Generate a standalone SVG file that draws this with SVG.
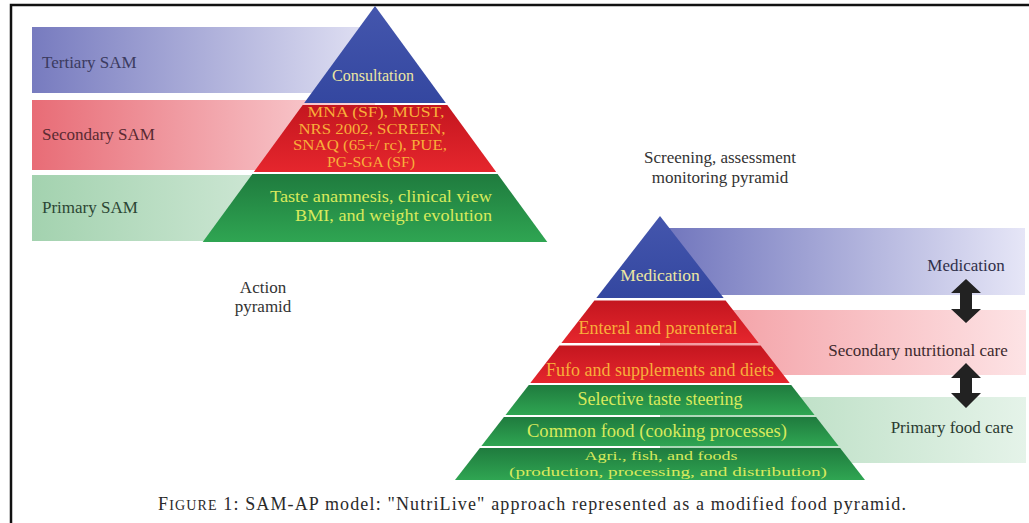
<svg xmlns="http://www.w3.org/2000/svg" width="1029" height="523" viewBox="0 0 1029 523">
<defs>
<linearGradient id="gTer" x1="0" y1="0" x2="1" y2="0"><stop offset="0" stop-color="#777bbf"/><stop offset="1" stop-color="#e2e2f4"/></linearGradient>
<linearGradient id="gSec" x1="0" y1="0" x2="1" y2="0"><stop offset="0" stop-color="#e86c76"/><stop offset="1" stop-color="#fbd9dc"/></linearGradient>
<linearGradient id="gPri" x1="0" y1="0" x2="1" y2="0"><stop offset="0" stop-color="#a3d2af"/><stop offset="1" stop-color="#e2f1e6"/></linearGradient>
<linearGradient id="gMedR" x1="0" y1="0" x2="1" y2="0"><stop offset="0" stop-color="#6f74bc"/><stop offset="1" stop-color="#e6e6f7"/></linearGradient>
<linearGradient id="gSecR" x1="0" y1="0" x2="1" y2="0"><stop offset="0" stop-color="#f2959b"/><stop offset="1" stop-color="#fde3e5"/></linearGradient>
<linearGradient id="gPriR" x1="0" y1="0" x2="1" y2="0"><stop offset="0" stop-color="#a9d6b4"/><stop offset="1" stop-color="#e5f3e9"/></linearGradient>
<linearGradient id="gBlue" x1="0" y1="0" x2="0" y2="1"><stop offset="0" stop-color="#4456ad"/><stop offset="1" stop-color="#3447a0"/></linearGradient>
<linearGradient id="gRed" x1="0" y1="0" x2="0" y2="1"><stop offset="0" stop-color="#c4161f"/><stop offset="1" stop-color="#e5262d"/></linearGradient>
<linearGradient id="gGreen" x1="0" y1="0" x2="0" y2="1"><stop offset="0" stop-color="#1f7b3e"/><stop offset="1" stop-color="#2fa552"/></linearGradient>
</defs>
<style>
text{font-family:"Liberation Serif","DejaVu Serif",serif;}
.band{font-size:17px;}
.mid{text-anchor:middle;}
.lbl{font-size:17px;fill:#333;}
.tb{fill:#ece6a2;}
.tr{fill:#f8ae3a;}
.tg{fill:#d8ea5c;}
.frame{fill:none;stroke:#111;stroke-width:2.5;}
.arr{fill:#222;}
</style>
<rect width="1029" height="523" fill="#fff"/>
<path class="frame" d="M11,523 V5 H1029"/>

<g id="band-tertiary-sam"><rect x="32" y="27" width="343" height="66" fill="url(#gTer)"/><text class="band" x="42" y="68" fill="#3b3b60">Tertiary SAM</text></g>
<g id="band-secondary-sam"><rect x="32" y="100" width="343" height="70" fill="url(#gSec)"/><text class="band" x="42" y="140" fill="#5a2a32">Secondary SAM</text></g>
<g id="band-primary-sam"><rect x="32" y="175" width="343" height="66" fill="url(#gPri)"/><text class="band" x="42" y="213" fill="#2c4634">Primary SAM</text></g>

<g id="left-consultation"><polygon points="375,6 445.8,103 304.2,103" fill="url(#gBlue)"/><text class="mid tb" x="373" y="81" font-size="16">Consultation</text></g>
<g id="left-screening-tools"><polygon points="302.7,105 447.3,105 496.2,172 253.8,172" fill="url(#gRed)"/>
<text class="mid tr" x="376" y="117" font-size="14" textLength="137" lengthAdjust="spacingAndGlyphs">MNA (SF), MUST,</text>
<text class="mid tr" x="372" y="133.5" font-size="14" textLength="147" lengthAdjust="spacingAndGlyphs">NRS 2002, SCREEN,</text>
<text class="mid tr" x="370" y="150" font-size="14" textLength="154" lengthAdjust="spacingAndGlyphs">SNAQ (65+/ rc), PUE,</text>
<text class="mid tr" x="371" y="166.5" font-size="14" textLength="88" lengthAdjust="spacingAndGlyphs">PG-SGA (SF)</text></g>
<g id="left-taste"><polygon points="252.4,174 497.6,174 547.3,242 202.7,242" fill="url(#gGreen)"/>
<text class="tg" x="270" y="202" font-size="16.5" textLength="222" lengthAdjust="spacingAndGlyphs">Taste anamnesis, clinical view</text>
<text class="tg" x="295" y="221" font-size="16.5" textLength="197" lengthAdjust="spacingAndGlyphs">BMI, and weight evolution</text></g>

<g id="label-action"><text class="lbl mid"><tspan x="263" y="293">Action</tspan><tspan x="263" y="312">pyramid</tspan></text></g>
<g id="label-screening"><text class="lbl mid"><tspan x="720" y="163">Screening, assessment</tspan><tspan x="720" y="183">monitoring pyramid</tspan></text></g>

<g id="band-medication"><rect x="660" y="228" width="365" height="67" fill="url(#gMedR)"/><text class="band mid" x="966" y="271" fill="#30304a">Medication</text></g>
<g id="band-secondary-care"><rect x="660" y="310" width="366" height="65" fill="url(#gSecR)"/><text class="band mid" x="918" y="356" fill="#3e2a2e">Secondary nutritional care</text></g>
<g id="band-primary-care"><rect x="660" y="397" width="366" height="66" fill="url(#gPriR)"/><text class="band mid" x="952" y="433" fill="#2a3a30">Primary food care</text></g>

<g id="right-medication"><polygon points="660,216 723.7,298 596.3,298" fill="url(#gBlue)"/><text class="mid tb" x="660" y="281" font-size="17.5">Medication</text></g>
<g id="right-enteral"><polygon points="594.4,300.5 725.6,300.5 758.6,343 561.4,343" fill="url(#gRed)"/><text class="mid tr" x="658" y="334" font-size="18">Enteral and parenteral</text></g>
<g id="right-fufo"><polygon points="559.4,345.5 760.6,345.5 789.7,383 530.3,383" fill="url(#gRed)"/><text class="mid tr" x="660" y="376" font-size="18">Fufo and supplements and diets</text></g>
<g id="right-selective"><polygon points="528.8,385 791.2,385 814.5,415 505.5,415" fill="url(#gGreen)"/><text class="mid tg" x="660" y="405" font-size="18">Selective taste steering</text></g>
<g id="right-common"><polygon points="503.9,417 816.1,417 838.6,446 481.4,446" fill="url(#gGreen)"/><text class="mid tg" x="657" y="437" font-size="18" textLength="260" lengthAdjust="spacingAndGlyphs">Common food (cooking processes)</text></g>
<g id="right-agri"><polygon points="479.9,448 840.1,448 865,480 455,480" fill="url(#gGreen)"/>
<text class="mid tg" x="661" y="460" font-size="13.5" textLength="153" lengthAdjust="spacingAndGlyphs">Agri., fish, and foods</text>
<text class="mid tg" x="668" y="476" font-size="13.5" textLength="318" lengthAdjust="spacingAndGlyphs">(production, processing, and distribution)</text></g>

<g id="connectors">
<polygon class="arr" points="966,279 981,293 972,293 972,309 981,309 966,323 951,309 960,309 960,293 951,293"/>
<polygon class="arr" points="966,363 981,378 972,378 972,393 981,393 966,408 951,393 960,393 960,378 951,378"/>
</g>

<g id="caption"><text x="158" y="510" font-size="18" fill="#2a2a2a" textLength="748" lengthAdjust="spacing">F<tspan font-size="14">IGURE</tspan> 1: SAM-AP model: "NutriLive" approach represented as a modified food pyramid.</text></g>
</svg>
